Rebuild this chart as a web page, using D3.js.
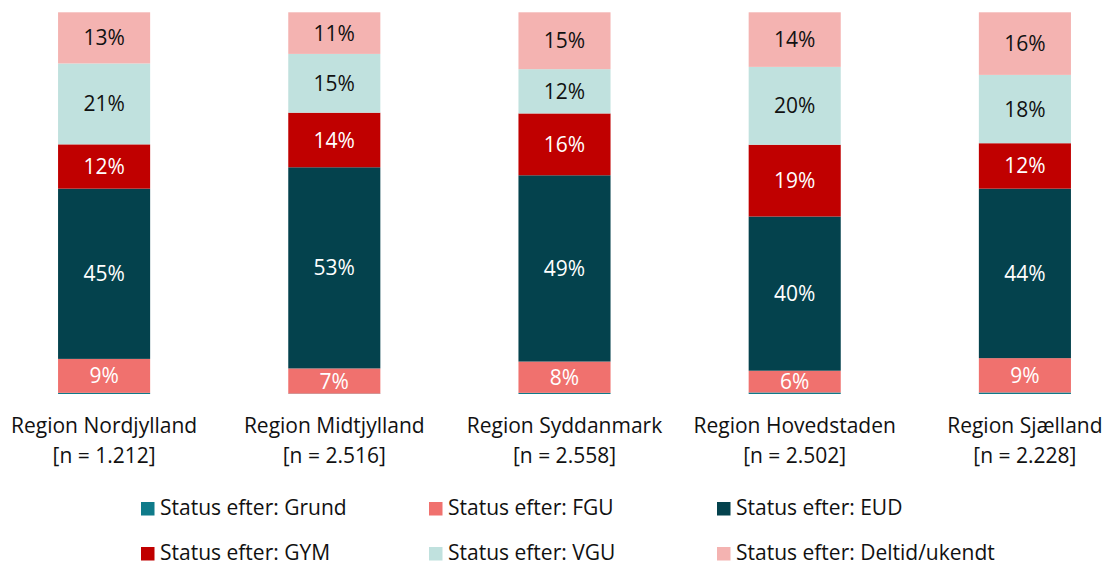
<!DOCTYPE html>
<html>
<head>
<meta charset="utf-8">
<script src="https://cdn.jsdelivr.net/npm/d3@7"></script>
<style>
  body { margin: 0; background: #fff; }
  svg { display: block; font-family: "Open Sans", Lato, sans-serif; }
</style>
</head>
<body>
<div id="chart"></div>
<script>
// categories + sample sizes
var regions = ["Region Nordjylland", "Region Midtjylland", "Region Syddanmark", "Region Hovedstaden", "Region Sjælland"];
var sampleSizes = ["1.212", "2.516", "2.558", "2.502", "2.228"];

// series (share of each region, in %), bottom to top
var seriesNames = ["Status efter: Grund", "Status efter: FGU", "Status efter: EUD",
                   "Status efter: GYM", "Status efter: VGU", "Status efter: Deltid/ukendt"];
var grund  = [0.3, 0.1, 0.3, 0.4, 0.4];
var fgu    = [8.9, 6.6, 8.2, 5.7, 9.0];
var eud    = [44.6, 52.7, 48.8, 40.4, 44.4];
var gym    = [11.6, 14.3, 16.2, 18.8, 11.9];
var vgu    = [21.2, 15.4, 11.6, 20.4, 17.9];
var deltid = [13.4, 10.9, 14.9, 14.3, 16.4];

var colors = ["#0f7b8a", "#f0716e", "#04424d", "#c00000", "#c0e1de", "#f4b3b1"];
var labelColors = [null, "#fff", "#fff", "#fff", "#111", "#111"];

function init() {
    var w = 1108, h = 566;
    var fontSize = "21px";

    // build rows for d3.stack
    var allSeries = [grund, fgu, eud, gym, vgu, deltid];
    var rows = regions.map(function(r, i) {
        var row = { region: r };
        seriesNames.forEach(function(s, k) { row[s] = allSeries[k][i]; });
        return row;
    });
    var stacked = d3.stack().keys(seriesNames)(rows);

    var svg = d3.select("#chart").append("svg")
        .attr("width", w)
        .attr("height", h);

    // scales
    var x = d3.scaleBand()
        .domain(regions)
        .range([-11, 1140])
        .paddingInner(0.6)
        .paddingOuter(0.3);

    var y = d3.scaleLinear()
        .domain([0, 100])
        .range([394, 12.3]);

    // bars
    var layers = svg.selectAll("g.layer")
        .data(stacked)
        .enter().append("g")
        .attr("class", "layer")
        .attr("fill", function(d, k) { return colors[k]; });

    layers.selectAll("rect")
        .data(function(d) { return d; })
        .enter().append("rect")
        .attr("x", function(d) { return x(d.data.region); })
        .attr("width", x.bandwidth())
        .attr("y", function(d) { return y(d[1]); })
        .attr("height", function(d) { return y(d[0]) - y(d[1]); });

    // data labels (no label for the tiny Grund segment)
    var fmt = d3.format(".0f");
    layers.filter(function(d, k) { return k > 0; })
        .selectAll("text")
        .data(function(d) { return d.map(function(p) { return { p: p, k: d.index }; }); })
        .enter().append("text")
        .attr("x", function(d) { return x(d.p.data.region) + x.bandwidth() / 2; })
        .attr("y", function(d) { return (y(d.p[0]) + y(d.p[1])) / 2; })
        .attr("dy", "0.36em")
        .attr("text-anchor", "middle")
        .attr("font-size", fontSize)
        .attr("fill", function(d) { return labelColors[d.k]; })
        .text(function(d) { return fmt(d.p[1] - d.p[0]) + "%"; });

    // category axis labels (two lines)
    var catLabels = svg.selectAll("text.cat")
        .data(regions)
        .enter().append("text")
        .attr("class", "cat")
        .attr("text-anchor", "middle")
        .attr("font-size", fontSize)
        .attr("fill", "#111");
    catLabels.append("tspan")
        .attr("x", function(d) { return x(d) + x.bandwidth() / 2; })
        .attr("y", 433)
        .text(function(d) { return d; });
    catLabels.append("tspan")
        .attr("x", function(d) { return x(d) + x.bandwidth() / 2; })
        .attr("y", 463)
        .text(function(d, i) { return "[n = " + sampleSizes[i] + "]"; });

    // legend, 3 columns x 2 rows
    var legend = svg.selectAll("g.legend")
        .data(seriesNames)
        .enter().append("g")
        .attr("class", "legend")
        .attr("transform", function(d, i) {
            return "translate(" + (141 + (i % 3) * 288) + "," + (502 + Math.floor(i / 3) * 45) + ")";
        });
    legend.append("rect")
        .attr("width", 13.5)
        .attr("height", 13.5)
        .attr("fill", function(d, i) { return colors[i]; });
    legend.append("text")
        .attr("x", 19)
        .attr("y", 12.5)
        .attr("font-size", fontSize)
        .attr("fill", "#111")
        .text(function(d) { return d; });
}

window.onload = init;
</script>
</body>
</html>
